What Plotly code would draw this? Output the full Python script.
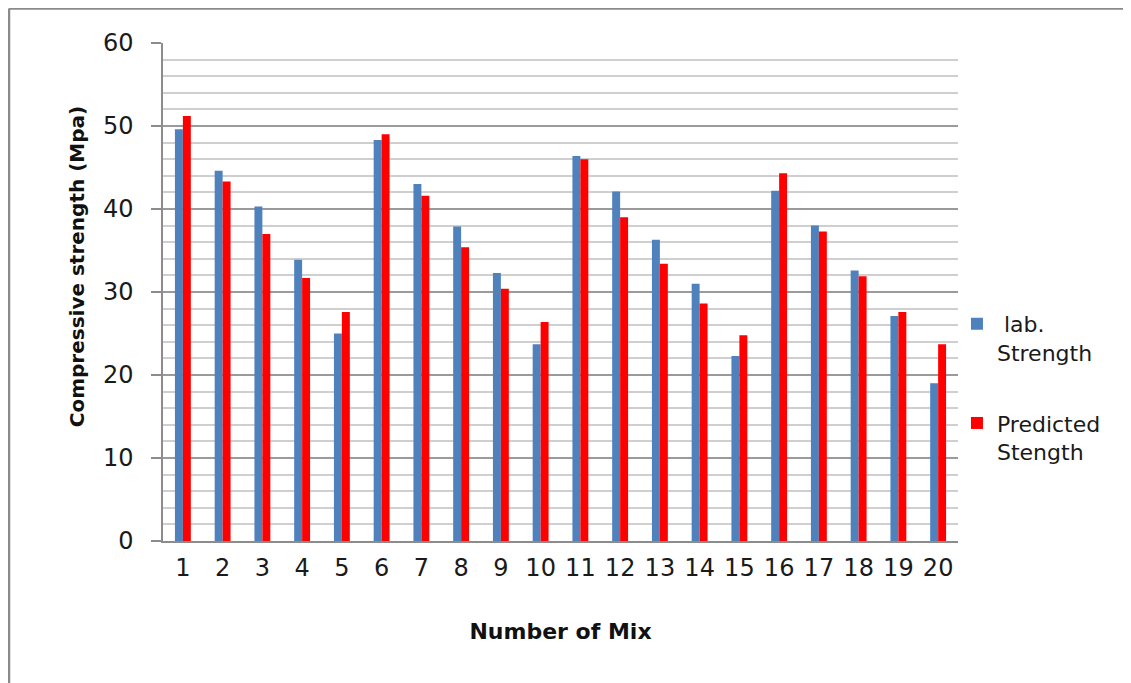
import plotly.graph_objects as go

mixes = [str(i) for i in range(1, 21)]
lab_strength = [49.6, 44.6, 40.3, 33.9, 25.0, 48.3, 43.0, 37.9, 32.3, 23.7,
                46.4, 42.1, 36.3, 31.0, 22.3, 42.2, 38.0, 32.6, 27.1, 19.0]
predicted_strength = [51.2, 43.3, 37.0, 31.7, 27.6, 49.0, 41.6, 35.4, 30.4, 26.4,
                      46.0, 39.0, 33.4, 28.6, 24.8, 44.3, 37.3, 31.9, 27.6, 23.7]
y_ticks = [0, 10, 20, 30, 40, 50, 60]

FONT = "DejaVu Sans"
W, H = 1123, 675                 # page is offset by an 8px body margin
L, R, T, B = 155, 173, 35, 142
PW, PH = W - L - R, H - T - B

fig = go.Figure()
fig.add_trace(go.Bar(x=mixes, y=lab_strength, name=" lab.<br>Strength",
                     marker=dict(color="#4F81BD", line=dict(width=0)),
                     legendgroup="a"))
fig.add_trace(go.Bar(x=mixes, y=predicted_strength, name="Predicted<br>Stength",
                     marker=dict(color="#FF0000", line=dict(width=0)),
                     legendgroup="b"))

fig.update_layout(
    width=W, height=H,
    margin=dict(l=L, r=R, t=T, b=B),
    paper_bgcolor="white", plot_bgcolor="white",
    barmode="group", bargap=0.6, bargroupgap=0,
    font=dict(family=FONT, color="#1a1a1a"),
    showlegend=True,
    legend=dict(x=0.9987, xanchor="left", y=0.478, yanchor="top",
                font=dict(size=22, family=FONT, color="#1a1a1a"),
                valign="top", tracegroupgap=39, bgcolor="rgba(0,0,0,0)",
                itemwidth=30),
    xaxis=dict(
        type="category", showgrid=False, ticks="",
        showline=True, linecolor="#8c8c8c", linewidth=1.5,
        tickfont=dict(size=24, family=FONT, color="#1a1a1a"),
        ticklabelstandoff=4,
        title=dict(text="<b>Number of Mix</b>", font=dict(size=22, family=FONT, color="#111111"),
                   standoff=43),
    ),
    yaxis=dict(
        range=[0, 60], tickvals=y_ticks, ticks="outside", ticklen=10,
        tickcolor="#8c8c8c", tickwidth=1.5,
        showgrid=True, gridcolor="#9a9a9a", gridwidth=1.5,
        minor=dict(dtick=2, showgrid=True, gridcolor="#cfcfcf", gridwidth=1.5),
        showline=True, linecolor="#8c8c8c", linewidth=1.5,
        zeroline=False,
        tickfont=dict(size=24, family=FONT, color="#1a1a1a"),
        ticklabelstandoff=13,
        title=dict(text="&nbsp;" * 8 + "<b>Compressive strength (Mpa)</b>",
                   font=dict(size=20, family=FONT, color="#111111"), standoff=13),
    ),
)

# outer frame (top and left edges as in the reference), in figure pixels -> paper
def px(xp):
    return (xp - L) / PW

def py(yp):
    return (T + PH - yp) / PH

fig.add_shape(type="line", xref="paper", yref="paper",
              x0=px(1), x1=px(W), y0=py(0.5), y1=py(0.5),
              line=dict(color="#8a8a8a", width=2.5))
fig.add_shape(type="line", xref="paper", yref="paper",
              x0=px(1), x1=px(1), y0=py(0.5), y1=py(H),
              line=dict(color="#8a8a8a", width=2.5))

fig.write_html("out.html")
